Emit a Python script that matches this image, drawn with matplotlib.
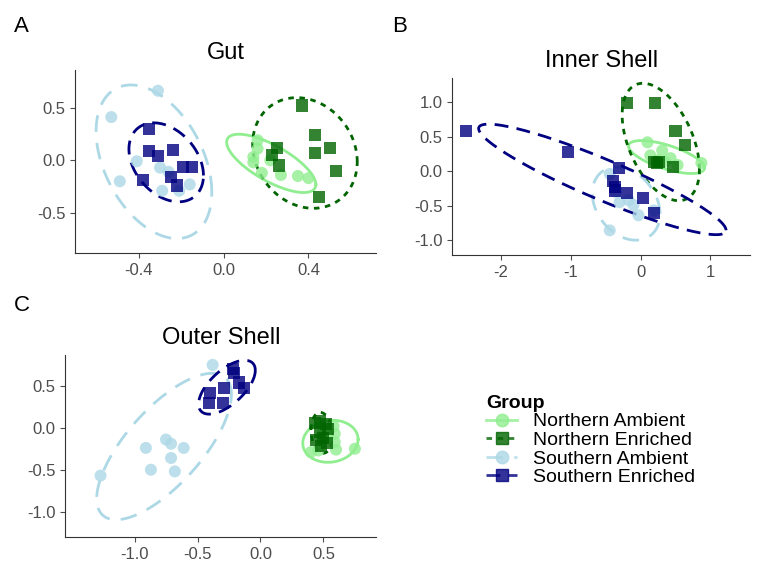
import matplotlib.pyplot as plt
import numpy as np
from matplotlib.lines import Line2D

plt.rcParams['font.family'] = ['Liberation Sans', 'DejaVu Sans']

groups = ['Northern Ambient', 'Northern Enriched', 'Southern Ambient', 'Southern Enriched']
colors = ['#90EE90', '#006400', '#ADD8E6', '#000080']
markers = ['o', 's', 'o', 's']
styles = ['-', (0, (2, 2)), (0, (6, 4)), (0, (5, 3))]

gut = {
    'Northern Ambient': ([0.16, 0.16, 0.14, 0.14, 0.18, 0.27, 0.35, 0.40, 0.22],
                         [0.19, 0.11, 0.03, -0.02, -0.12, -0.14, -0.15, -0.17, 0.0]),
    'Northern Enriched': ([0.37, 0.43, 0.50, 0.43, 0.25, 0.23, 0.26, 0.53, 0.45],
                          [0.52, 0.24, 0.12, 0.07, 0.12, 0.05, -0.05, -0.10, -0.35]),
    'Southern Ambient': ([-0.31, -0.53, -0.41, -0.49, -0.30, -0.26, -0.16, -0.29, -0.21],
                         [0.66, 0.41, -0.01, -0.20, -0.07, -0.11, -0.23, -0.29, -0.29]),
    'Southern Enriched': ([-0.35, -0.35, -0.31, -0.24, -0.19, -0.15, -0.25, -0.22, -0.38],
                          [0.30, 0.09, 0.04, 0.10, -0.06, -0.06, -0.16, -0.24, -0.19]),
}
inner = {
    'Northern Ambient': ([0.10, 0.31, 0.14, 0.43, 0.87, 0.24, 0.53, 0.35],
                         [0.42, 0.30, 0.23, 0.19, 0.12, 0.16, 0.09, 0.14]),
    'Northern Enriched': ([-0.19, 0.21, 0.50, 0.63, 0.19, 0.27, 0.47, 0.24],
                          [0.99, 0.99, 0.58, 0.38, 0.14, 0.14, 0.06, 0.12]),
    'Southern Ambient': ([-0.44, -0.44, -0.17, -0.10, -0.03, 0.19, -0.30, -0.35],
                         [-0.86, -0.04, -0.42, -0.49, -0.64, -0.57, -0.45, -0.30]),
    'Southern Enriched': ([-2.49, -1.03, -0.31, -0.39, -0.37, -0.36, -0.19, 0.04, 0.19],
                          [0.58, 0.28, 0.04, -0.14, -0.23, -0.28, -0.32, -0.39, -0.61]),
}
outer = {
    'Northern Ambient': ([0.40, 0.46, 0.60, 0.75, 0.58, 0.59, 0.59, 0.53, 0.50],
                         [-0.29, -0.27, -0.26, -0.25, 0.02, -0.07, -0.17, -0.12, -0.04]),
    'Northern Enriched': ([0.43, 0.47, 0.52, 0.54, 0.47, 0.50, 0.44, 0.53, 0.48],
                          [0.06, 0.08, 0.05, -0.02, -0.05, -0.12, -0.14, -0.18, -0.22]),
    'Southern Ambient': ([-1.27, -0.38, -0.91, -0.75, -0.71, -0.61, -0.71, -0.87, -0.68],
                         [-0.57, 0.75, -0.24, -0.14, -0.19, -0.24, -0.36, -0.50, -0.52]),
    'Southern Enriched': ([-0.41, -0.40, -0.30, -0.29, -0.21, -0.17, -0.13, -0.22],
                          [0.30, 0.42, 0.30, 0.48, 0.65, 0.54, 0.48, 0.70]),
}

# ellipse radius (in sd units), tuned to match the reference size
r_ell = 2.2


def ellipse(x, y):
    x = np.asarray(x); y = np.asarray(y)
    cov = np.cov(x, y)
    t = np.linspace(0, 2 * np.pi, 200)
    L = np.linalg.cholesky(cov)
    pts = L @ np.vstack([np.cos(t), np.sin(t)]) * r_ell
    return x.mean() + pts[0], y.mean() + pts[1]


def panel(ax, data, title, xlim, ylim, xticks, yticks, xfmt, yfmt):
    for g, c, m, ls in zip(groups, colors, markers, styles):
        x, y = data[g]
        ax.scatter(x, y, color=c, marker=m, s=75, alpha=0.8, edgecolors='none', zorder=3)
        ex, ey = ellipse(x, y)
        ax.plot(ex, ey, color=c, ls=ls, lw=2, zorder=2)
    ax.set_xlim(*xlim); ax.set_ylim(*ylim)
    ax.set_xticks(xticks); ax.set_yticks(yticks)
    ax.set_xticklabels([xfmt % v for v in xticks])
    ax.set_yticklabels([yfmt % v for v in yticks])
    for s in ['top', 'right']:
        ax.spines[s].set_visible(False)
    ax.tick_params(labelsize=12, colors='#4D4D4D', labelcolor='#4D4D4D')
    ax.spines['left'].set_color('#333333'); ax.spines['bottom'].set_color('#333333')
    ax.set_title(title, fontsize=17, pad=8)


fig = plt.figure(figsize=(7.68, 5.76), dpi=100)
axA = fig.add_axes([0.098, 0.561, 0.392, 0.318])
axB = fig.add_axes([0.589, 0.557, 0.388, 0.307])
axC = fig.add_axes([0.085, 0.068, 0.405, 0.316])

panel(axA, gut, 'Gut', (-0.7, 0.72), (-0.88, 0.86), [-0.4, 0.0, 0.4], [-0.5, 0.0, 0.5], '%.1f', '%.1f')
panel(axB, inner, 'Inner Shell', (-2.69, 1.57), (-1.22, 1.35), [-2, -1, 0, 1], [-1.0, -0.5, 0.0, 0.5, 1.0], '%d', '%.1f')
panel(axC, outer, 'Outer Shell', (-1.55, 0.92), (-1.30, 0.87), [-1.0, -0.5, 0.0, 0.5], [-1.0, -0.5, 0.0, 0.5], '%.1f', '%.1f')

fig.text(0.018, 0.945, 'A', fontsize=16)
fig.text(0.51, 0.945, 'B', fontsize=16)
fig.text(0.018, 0.46, 'C', fontsize=16)

handles = [Line2D([0], [0], color=c, marker=m, ls=ls, lw=2, markersize=9, alpha=0.8)
           for c, m, ls in zip(colors, markers, styles)]
fig.legend(handles, groups, loc='upper left', bbox_to_anchor=(0.61, 0.345), frameon=False,
           title='Group', title_fontproperties={'weight': 'bold', 'size': 14}, fontsize=14,
           handlelength=1.6, labelspacing=0.05, alignment='left')

fig.savefig('out.png', dpi=100)
